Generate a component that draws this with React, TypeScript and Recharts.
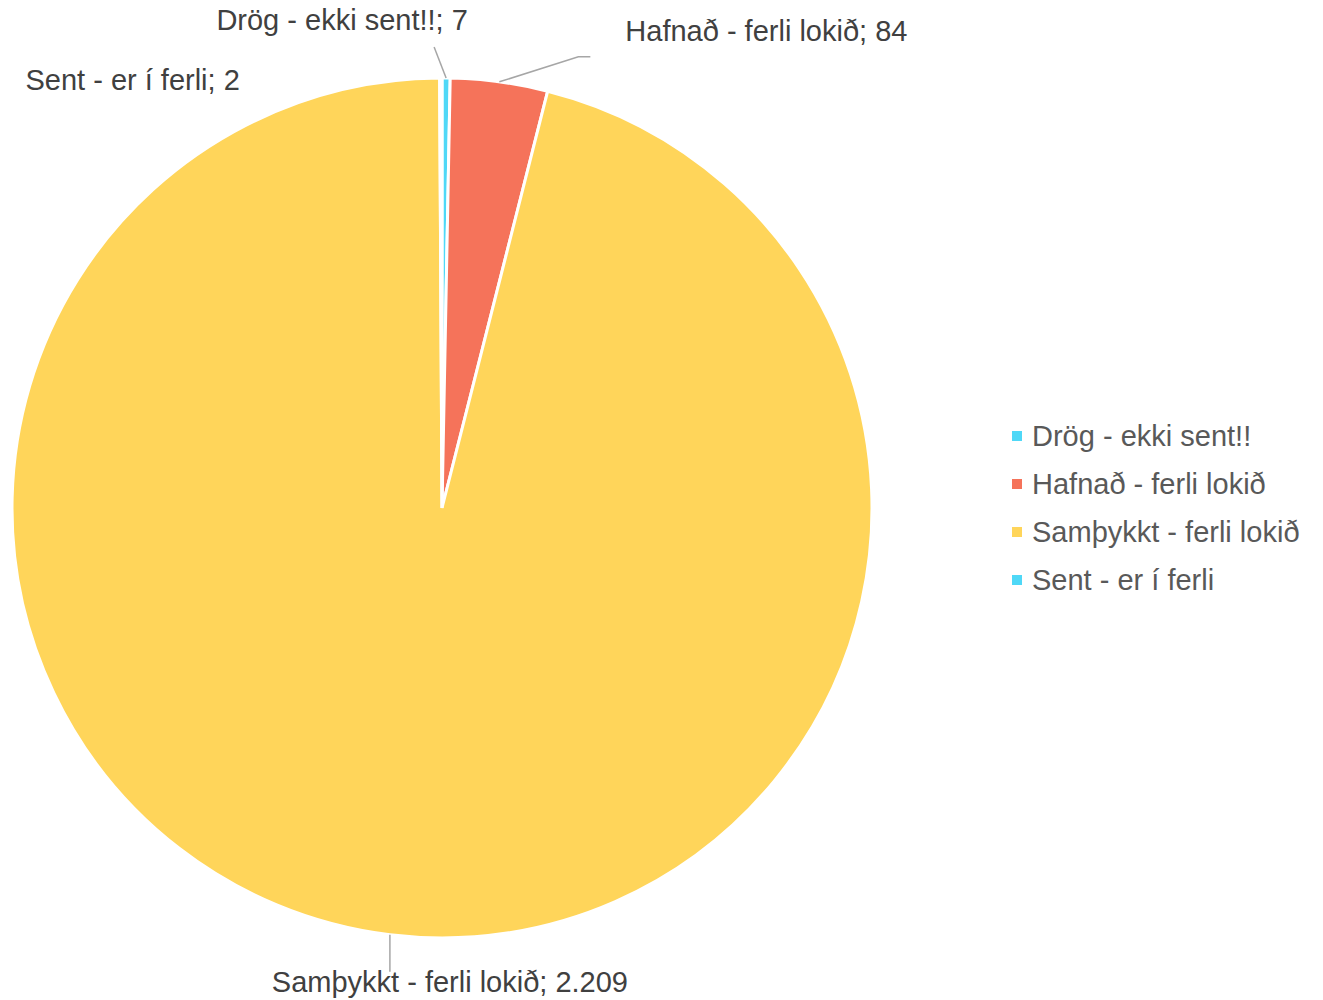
import React from 'react';
import { PieChart, Pie, Cell, Legend } from 'recharts';

const categories = ['Drög - ekki sent!!', 'Hafnað - ferli lokið', 'Samþykkt - ferli lokið', 'Sent - er í ferli'];
const values = [7, 84, 2209, 2];
const colors = ['#4FD8F7', '#F5735A', '#FFD55A', '#4FD8F7'];

// label layout offsets relative to the slice's outer-arc anchor point (style only)
const labelLayout = [
  { line: [[-12, -31]], text: [-104, -58], anchor: 'middle' },
  { line: [[79, -25], [91, -25]], text: [126, -51], anchor: 'start' },
  { line: [[0, 37]], text: [60, 47], anchor: 'middle' },
  { line: [], text: [-201, 2], anchor: 'end' },
];

const data = categories.map((name, i) => ({ name, value: values[i] }));

const fmt = (v: number) => String(v).replace(/\B(?=(\d{3})+(?!\d))/g, '.');

const FONT = 'Liberation Sans, Arial, sans-serif';

const renderLabel = (props: any) => {
  const { cx, cy, midAngle, outerRadius, index, name, value } = props;
  const RAD = Math.PI / 180;
  const ax = cx + outerRadius * Math.cos(-midAngle * RAD);
  const ay = cy + outerRadius * Math.sin(-midAngle * RAD);
  const lay = labelLayout[index];
  const pts = [[ax, ay], ...lay.line.map(([dx, dy]) => [ax + dx, ay + dy])];
  return (
    <g key={`lbl-${index}`}>
      {pts.length > 1 && (
        <polyline
          points={pts.map((p) => p.join(',')).join(' ')}
          fill="none"
          stroke="#A6A6A6"
          strokeWidth={1.5}
        />
      )}
      <text
        x={ax + lay.text[0]}
        y={ay + lay.text[1]}
        textAnchor={lay.anchor as any}
        dominantBaseline="central"
        fill="#404040"
        fontSize={29}
        style={{ fontFamily: FONT }}
      >
        {`${name}; ${fmt(value)}`}
      </text>
    </g>
  );
};

const renderLegend = () => (
  <div style={{ fontFamily: FONT }}>
    {data.map((d, i) => (
      <div key={d.name} style={{ display: 'flex', alignItems: 'center', height: 48 }}>
        <div style={{ width: 10, height: 10, background: colors[i], marginRight: 10 }} />
        <span style={{ fontSize: 29, color: '#595959', whiteSpace: 'nowrap' }}>{d.name}</span>
      </div>
    ))}
  </div>
);

export default function App() {
  return (
    <div style={{ position: 'absolute', left: 0, top: 0, width: 1323, height: 1000, background: '#fff' }}>
      <PieChart width={1323} height={1000} margin={{ top: 0, right: 0, bottom: 0, left: 0 }}>
        <Pie
          data={data}
          dataKey="value"
          nameKey="name"
          cx={442}
          cy={508}
          outerRadius={430}
          startAngle={90}
          endAngle={-270}
          stroke="#FFFFFF"
          strokeWidth={3}
          label={renderLabel}
          labelLine={false}
          isAnimationActive={false}
        >
          {data.map((d, i) => (
            <Cell key={d.name} fill={colors[i]} />
          ))}
        </Pie>
        <Legend
          content={renderLegend}
          layout="vertical"
          verticalAlign="middle"
          align="right"
          width={311}
          wrapperStyle={{ position: 'absolute', left: 1012, top: 412, width: 311 }}
        />
      </PieChart>
    </div>
  );
}
